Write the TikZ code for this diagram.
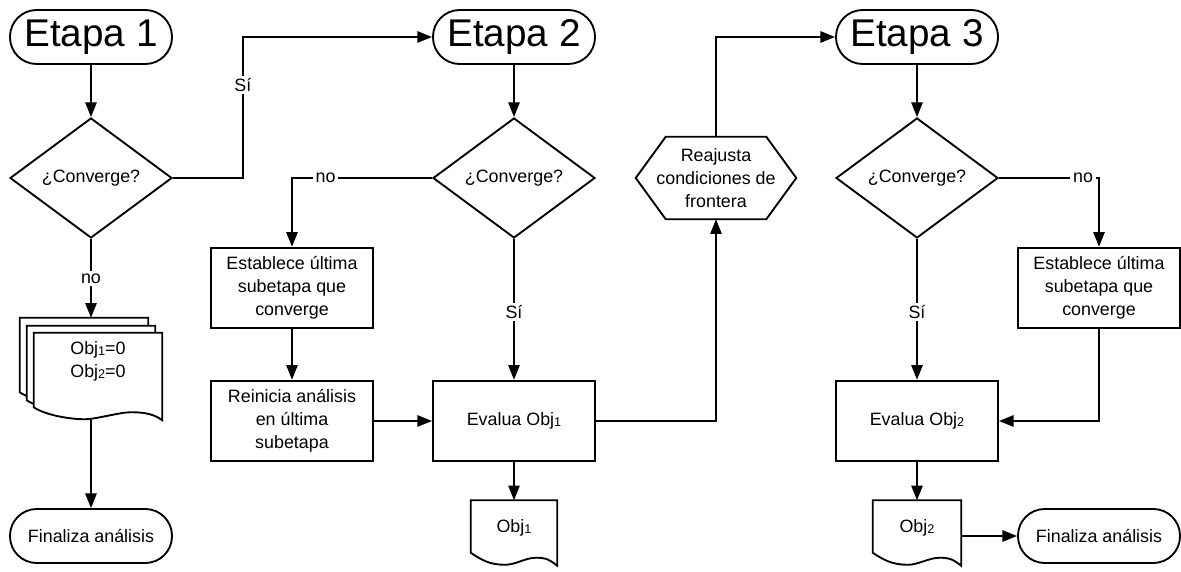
\documentclass[tikz,border=0pt]{standalone}
\usepackage{fontspec}
\setmainfont{Liberation Sans}
\usetikzlibrary{shapes.geometric,arrows.meta,calc,backgrounds}

% small index digit as printed after Obj
\newcommand{\objidx}[1]{\raisebox{-0.4pt}{\fontsize{9.5}{10}\selectfont #1}}

% outline of a document sheet round a node, #1 = shift in px
\newcommand{\docsheet}[2][0,0]{%
  \draw[box line, fill=white]
    ($(#2.north west)+(#1)$) -- ($(#2.north east)+(#1)$) -- ($(#2.south east)+(#1)$)
    .. controls +(-10,-8) and +(8,0) .. ($(#2.south west)!0.75!(#2.south east)+(#1)+(0,-8)$)
    .. controls +(-10,0) and +(10,0) .. ($(#2.south west)!0.4!(#2.south east)+(#1)+(0,-1)$)
    .. controls +(-15,0) and +(12,8) .. ($(#2.south west)+(#1)+(0,-13)$) -- cycle;}

\begin{document}
\begin{tikzpicture}[
    x=0.75pt, y=-0.75pt,
    every node/.style={font=\fontsize{13.4}{17.4}\selectfont, align=center},
    box line/.style={line width=1.4pt, line join=miter},
    stage/.style={draw, box line, rounded corners=20pt, minimum width=121.5pt, minimum height=40.5pt, inner sep=0pt},
    decision/.style={diamond, draw, box line, aspect=1.35, inner sep=0pt, minimum width=121.5pt, minimum height=90pt},
    process/.style={rectangle, draw, box line, minimum width=121.5pt, minimum height=60.5pt, inner sep=0pt},
    prep/.style={rectangle, minimum width=120pt, minimum height=61.5pt, inner sep=0pt},
    docbox/.style={rectangle, minimum width=64.5pt, minimum height=48.75pt, inner sep=0pt, text depth=10pt},
    conn/.style={line width=1.3pt, -{Triangle[length=11pt,width=8.5pt]}},
    lbl/.style={fill=white, inner sep=2pt}
]
\useasboundingbox (0,0) rectangle (1181,571);

% Stage headers
\node[stage, font=\fontsize{29}{31}\selectfont] (e1) at (91,37) {Etapa 1};
\node[stage, font=\fontsize{29}{31}\selectfont] (e2) at (514,37) {Etapa 2};
\node[stage, font=\fontsize{29}{31}\selectfont] (e3) at (917,37) {Etapa 3};

% Decisions
\node[decision] (d1) at (91,178) {¿Converge?};
\node[decision] (d2) at (514,178) {¿Converge?};
\node[decision] (d3) at (917,178) {¿Converge?};

% Process boxes
\node[process] (est1) at (292,288) {Establece última\\subetapa que\\converge};
\node[process] (rei1) at (292,421) {Reinicia análisis\\en última\\subetapa};
\node[process] (ev1) at (514,421) {Evalua Obj\objidx{1}};
\node[process] (est2) at (1099,288) {Establece última\\subetapa que\\converge};
\node[process] (ev2) at (917,421) {Evalua Obj\objidx{2}};

% Boundary adjustment (hexagon)
\node[prep] (hex) at (716,178) {Reajusta\\condiciones de\\frontera};
\draw[box line] (hex.west) -- ($(hex.north west)+(30,0)$) -- ($(hex.north east)+(-30,0)$)
  -- (hex.east) -- ($(hex.south east)+(-30,0)$) -- ($(hex.south west)+(30,0)$) -- cycle;

% Documents
\node[docbox, minimum width=96pt, minimum height=65.25pt, text depth=25pt] (init) at (98,376.5) {Obj\objidx{1}=0\\Obj\objidx{2}=0};
\coordinate (inittop) at ($(init.north)+(0,-15)$);
\node[docbox] (obj1) at (514,533) {Obj\objidx{1}};
\node[docbox, minimum width=66pt] (obj2) at (917,533) {Obj\objidx{2}};
\begin{pgfonlayer}{background}
  \docsheet[-14,-15]{init}
  \docsheet[-7,-7]{init}
  \docsheet{init}
  \docsheet{obj1}
  \docsheet{obj2}
\end{pgfonlayer}

% End terminals
\node[stage] (fin1) at (91,536) {Finaliza análisis};
\node[stage] (fin2) at (1099,536) {Finaliza análisis};

% Connectors, stage 1
\draw[conn] (e1) -- (d1);
\draw[conn] (d1.east) -- ++(70,0) |- node[lbl, pos=0.33] {Sí} (e2.west);
\draw[conn] (d1.south) -- node[lbl] {no} (d1.south |- inittop);
\draw[conn] (fin1.north |- init.south) -- (fin1.north);

% Connectors, stage 2
\draw[conn] (e2) -- (d2);
\draw[conn] (d2.west) -| node[lbl, pos=0.38] {no} (est1.north);
\draw[conn] (est1) -- (rei1);
\draw[conn] (rei1) -- (ev1);
\draw[conn] (d2.south) -- node[lbl, pos=0.52] {Sí} (ev1.north);
\draw[conn] (ev1.south) -- (obj1.north);
\draw[conn] (ev1.east) -| (hex.south);
\draw[conn] (hex.north) |- (e3.west);

% Connectors, stage 3
\draw[conn] (e3) -- (d3);
\draw[conn] (d3.east) -| node[lbl, pos=0.42] {no} (est2.north);
\draw[conn] (est2.south) |- (ev2.east);
\draw[conn] (d3.south) -- node[lbl, pos=0.52] {Sí} (ev2.north);
\draw[conn] (ev2.south) -- (obj2.north);
\draw[conn] (obj2.east |- fin2.west) -- (fin2.west);

\end{tikzpicture}
\end{document}
